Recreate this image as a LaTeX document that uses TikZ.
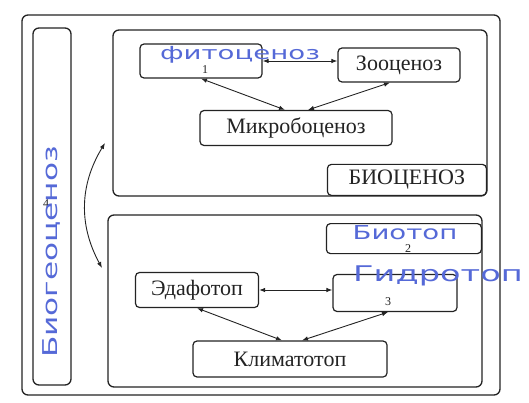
\documentclass[tikz,border=0pt]{standalone}
\usepackage{fontspec}
\setmainfont{Liberation Serif}
\newfontfamily\handfont{DejaVu Sans}
\usetikzlibrary{arrows.meta}
\definecolor{ink}{RGB}{35,35,35}
\definecolor{pen}{RGB}{85,105,215}
\tikzset{
  frame/.style={draw=ink, line width=1.3pt, rounded corners=6pt},
  box/.style={draw=ink, line width=1.2pt, rounded corners=4pt, fill=white, inner sep=0pt,
    font=\fontsize{22}{22}\selectfont, text=ink},
  link/.style={draw=ink, line width=0.9pt, {Latex[length=6pt,width=4.5pt]}-{Latex[length=6pt,width=4.5pt]}},
  hand/.style={text=pen, font=\handfont\fontsize{24}{24}\selectfont, inner sep=0pt},
  num/.style={text=ink, font=\fontsize{12}{12}\selectfont, inner sep=0pt}
}
\begin{document}
\begin{tikzpicture}[x=1pt,y=-1pt]
\useasboundingbox (0,0) rectangle (529,403);
% outer frame and panels
\draw[frame] (22,15) rectangle (500,395);
\draw[frame] (33,28) rectangle (71,385);
\draw[frame] (113,30) rectangle (487,196);
\draw[frame] (108,215) rectangle (482,387);
% biocenosis panel
\node[box, minimum width=122pt, minimum height=34pt] (fito) at (201,61) {};
\node[box, minimum width=122pt, minimum height=34pt] (zoo) at (399,65) {Зооценоз};
\node[box, minimum width=192pt, minimum height=35pt] (micro) at (296,128) {Микробоценоз};
\node[box, minimum width=159pt, minimum height=31pt, anchor=south east] (biocen) at (487,196) {БИОЦЕНОЗ};
% biotope panel
\node[box, minimum width=155pt, minimum height=30pt, anchor=north east] (biotop) at (482,223) {};
\node[box, minimum width=123pt, minimum height=35pt] (edafo) at (197,290) {Эдафотоп};
\node[box, minimum width=124pt, minimum height=37pt] (hydro) at (395,293) {};
\node[box, minimum width=194pt, minimum height=36pt] (klima) at (290,359) {Климатотоп};
% printed numbers
\node[num] (n1) at (205,70) {1};
\node[num] (n2) at (408,249) {2};
\node[num] (n3) at (388,302) {3};
\node[num] (n4) at (46,204) {4};
% connectors
\draw[link] (fito.east) -- (fito.east -| zoo.west);
\draw[link] (fito.south) -- ([xshift=-11pt]micro.north);
\draw[link] ([xshift=-9pt]zoo.south) -- ([xshift=12pt]micro.north);
\draw[link] (edafo.east) -- (edafo.east -| hydro.west);
\draw[link] (edafo.south) -- ([xshift=-8pt]klima.north);
\draw[link] ([xshift=-7pt]hydro.south) -- ([xshift=12pt]klima.north);
\coordinate (ca) at (105,143);
\coordinate (cb) at (102,268);
\draw[link] (ca) to[bend right=30] (cb);
% handwritten notes
\node[hand] (hfito) at (240,55) {\scalebox{1.15}[0.75]{фитоценоз}};
\node[hand, rotate=90] (hbgc) at (51,252) {\scalebox{1.3}[0.85]{Биогеоценоз}};
\node[hand] (hbiotop) at (405,233) {\scalebox{1.15}[0.8]{Биотоп}};
\node[hand] (hhydro) at (438,276) {\scalebox{1.4}[0.9]{Гидротоп}};
\end{tikzpicture}
\end{document}
